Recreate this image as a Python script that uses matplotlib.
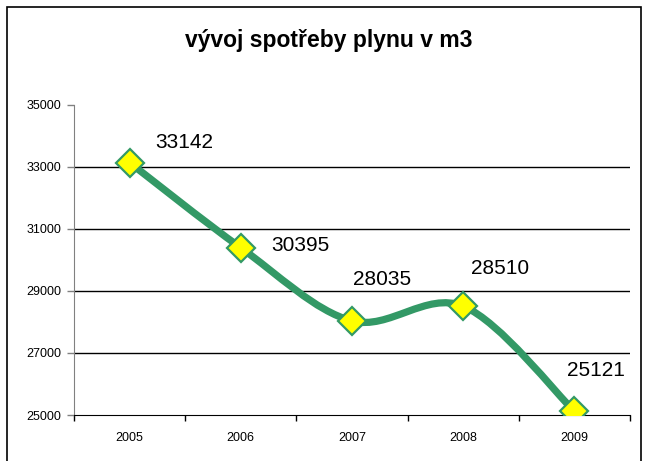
import matplotlib
matplotlib.use("Agg")
import matplotlib.pyplot as plt
from matplotlib.path import Path
from matplotlib.patches import PathPatch, Rectangle

plt.rcParams["font.family"] = ["Liberation Sans", "DejaVu Sans"]

# Data
years = ["2005", "2006", "2007", "2008", "2009"]
usage = [33142, 30395, 28035, 28510, 25121]

# label offsets in pixels (dx, dy)
label_offsets = [(55, 20), (60, 2), (30, 41), (37, 38), (22, 41)]

GREEN = "#339966"


def smooth_path(xs, ys):
    """Excel-like smoothed line: Catmull-Rom converted to cubic Bezier."""
    pts = list(zip(xs, ys))
    n = len(pts)
    verts = [pts[0]]
    codes = [Path.MOVETO]
    for i in range(n - 1):
        p0 = pts[i - 1] if i > 0 else pts[i]
        p1 = pts[i]
        p2 = pts[i + 1]
        p3 = pts[i + 2] if i + 2 < n else pts[i + 1]
        c1 = (p1[0] + (p2[0] - p0[0]) / 6, p1[1] + (p2[1] - p0[1]) / 6)
        c2 = (p2[0] - (p3[0] - p1[0]) / 6, p2[1] - (p3[1] - p1[1]) / 6)
        verts += [c1, c2, p2]
        codes += [Path.CURVE4] * 3
    return Path(verts, codes)


def main():
    fig = plt.figure(figsize=(6.45, 4.61), dpi=100)
    fig.patch.set_facecolor("white")

    # outer chart border
    fig.patches.append(Rectangle((7 / 645, -0.05), 634 / 645, 1.05 - 7 / 461,
                                 transform=fig.transFigure, fill=False,
                                 edgecolor="black", linewidth=1.2))

    ax = fig.add_axes([74 / 645, 46 / 461, 556 / 645, 310 / 461])
    x = list(range(len(years)))

    ax.set_xlim(-0.5, len(years) - 0.5)
    ax.set_ylim(25000, 35000)
    ax.set_yticks(range(25000, 35001, 2000))
    ax.set_yticklabels([str(v) for v in range(25000, 35001, 2000)], fontsize=9)
    ax.set_xticks(x)
    ax.set_xticklabels(years, fontsize=9)
    ax.set_xticks([i - 0.5 for i in range(len(years) + 1)], minor=True)
    ax.tick_params(axis="x", which="major", length=0, pad=12)
    ax.tick_params(axis="x", which="minor", length=4, width=1, color="black")
    ax.tick_params(axis="y", length=5, width=1, color="#808080", pad=4)

    for v in range(27000, 35000, 2000):
        ax.axhline(v, color="black", linewidth=1, zorder=1)

    ax.spines["top"].set_visible(False)
    ax.spines["right"].set_visible(False)
    ax.spines["left"].set_color("#808080")
    ax.spines["bottom"].set_color("black")

    ax.add_patch(PathPatch(smooth_path(x, usage), facecolor="none",
                           edgecolor=GREEN, linewidth=5.2, zorder=3,
                           capstyle="butt"))
    ax.plot(x, usage, linestyle="none", marker="D", markersize=14,
            markerfacecolor="#FFFF00", markeredgecolor=GREEN,
            markeredgewidth=1.6, zorder=4)

    for xi, v, (dx, dy) in zip(x, usage, label_offsets):
        ax.annotate(str(v), (xi, v), xytext=(dx * 0.72, dy * 0.72),
                    textcoords="offset points", ha="center", va="center",
                    fontsize=15, zorder=5)

    fig.text(329 / 645, 1 - 40 / 461, "vývoj spotřeby plynu v m3",
             ha="center", va="center", fontsize=16.5, fontweight="bold")

    fig.savefig("out.png", dpi=100)


if __name__ == "__main__":
    main()
